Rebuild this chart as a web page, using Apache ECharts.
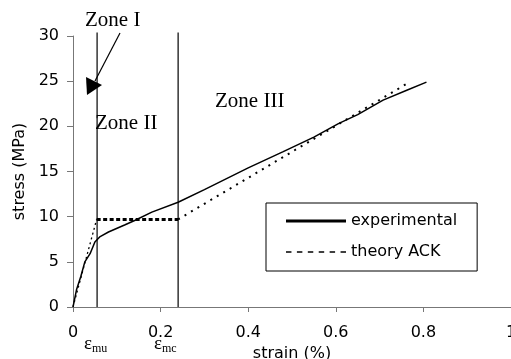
<!DOCTYPE html>
<html>
<head>
<meta charset="utf-8">
<script src="https://cdn.jsdelivr.net/npm/echarts@6/dist/echarts.min.js"></script>
<style>
html, body { margin: 0; padding: 0; background: #fff; }
#chart { width: 511px; height: 359px; }
</style>
</head>
<body>
<div id="chart"></div>
<script>
// experimental curve
var expStrain = [0, 0.008, 0.018, 0.027, 0.039, 0.05, 0.062, 0.081, 0.119, 0.142, 0.18, 0.24, 0.3, 0.4, 0.48, 0.55, 0.606, 0.65, 0.708, 0.762, 0.807];
var expStress = [0, 1.9, 3.4, 5.0, 5.9, 7.2, 7.8, 8.3, 9.1, 9.6, 10.5, 11.6, 13.0, 15.4, 17.2, 18.8, 20.3, 21.3, 22.9, 24.0, 24.9];

// ACK theory: elastic part, plateau, post-cracking part
var ackStrain1 = [0, 0.054];
var ackStress1 = [0, 9.7];
var plateauStrain = [0.054, 0.24];
var plateauStress = [9.7, 9.7];
var ackStrain3 = [0.24, 0.765];
var ackStress3 = [9.7, 24.8];

// zone boundaries (eps_mu, eps_mc), drawn a bit above the 30 tick
var zoneLines = [0.055, 0.24];
var zoneTop = 30.4;

function pairs(xs, ys) {
    var out = [];
    for (var i = 0; i < xs.length; i++) {
        out.push([xs[i], ys[i]]);
    }
    return out;
}

var sans = 'DejaVu Sans';
var serif = 'Liberation Serif';

var mychart = echarts.init(document.getElementById('chart'));

var zoneSeries = zoneLines.map(function (x, i) {
    return {
        name: 'zone' + i,
        type: 'line',
        data: [[x, 0], [x, zoneTop]],
        showSymbol: false,
        symbol: 'none',
        clip: false,
        silent: true,
        lineStyle: {color: '#000', width: 1.2},
        z: 1
    };
});

var subText = {
    e: {fontFamily: serif, fontSize: 19, fill: '#000'},
    s: {fontFamily: serif, fontSize: 12, fill: '#000', padding: [8, 0, 0, 0]}
};

var option = {
    backgroundColor: '#fff',
    animation: false,
    grid: {left: 73, right: 0, top: 36, bottom: 52, outerBoundsMode: 'none', containLabel: false},
    xAxis: {
        type: 'value',
        min: 0,
        max: 1,
        interval: 0.2,
        name: 'strain (%)',
        nameLocation: 'middle',
        nameGap: 32,
        nameTextStyle: {color: '#000', fontFamily: sans, fontSize: 16, verticalAlign: 'top'},
        axisLine: {lineStyle: {color: '#777', width: 1}},
        axisTick: {show: true, inside: false, length: 5, lineStyle: {color: '#777'}},
        axisLabel: {
            color: '#000', fontFamily: sans, fontSize: 16, margin: 18,
            showMaxLabel: true,
            formatter: function (v) { return String(+v.toFixed(1)); }
        },
        splitLine: {show: false}
    },
    yAxis: {
        type: 'value',
        min: 0,
        max: 30,
        interval: 5,
        name: 'stress (MPa)',
        nameLocation: 'middle',
        nameGap: 44,
        nameTextStyle: {color: '#000', fontFamily: sans, fontSize: 16},
        axisLine: {show: true, lineStyle: {color: '#777', width: 1}},
        axisTick: {show: true, inside: false, length: 6, lineStyle: {color: '#777'}},
        axisLabel: {color: '#000', fontFamily: sans, fontSize: 16, margin: 14},
        splitLine: {show: false}
    },
    legend: {
        left: 266,
        top: 203,
        orient: 'vertical',
        backgroundColor: '#fff',
        borderColor: '#000',
        borderWidth: 1,
        borderRadius: 0,
        padding: [10, 20, 11, 20],
        itemGap: 15,
        itemWidth: 60,
        itemHeight: 10,
        textStyle: {color: '#000', fontFamily: sans, fontSize: 16},
        data: [
            {name: 'experimental', icon: 'path://M0,0L60,0L60,3L0,3Z', itemStyle: {color: '#000'}},
            {
                name: 'theory ACK',
                icon: 'path://M0,0h5v1.5h-5z M10,0h5v1.5h-5z M20,0h5v1.5h-5z M30,0h5v1.5h-5z M40,0h5v1.5h-5z M50,0h5v1.5h-5z',
                itemStyle: {color: '#000'}
            }
        ]
    },
    series: [
        {
            name: 'experimental',
            type: 'line',
            data: pairs(expStrain, expStress),
            showSymbol: false,
            symbol: 'none',
            clip: false,
            lineStyle: {color: '#000', width: 1.5},
            itemStyle: {color: '#000'},
            z: 3
        },
        {
            name: 'theory ACK',
            type: 'line',
            data: pairs(ackStrain1, ackStress1),
            showSymbol: false,
            symbol: 'none',
            lineStyle: {color: '#000', width: 1.3, type: [2, 3]},
            itemStyle: {color: '#000'},
            z: 2
        },
        {
            name: 'theory ACK',
            type: 'line',
            data: pairs(ackStrain3, ackStress3),
            showSymbol: false,
            symbol: 'none',
            lineStyle: {color: '#000', width: 2, type: [2, 5.5]},
            itemStyle: {color: '#000'},
            z: 2
        },
        {
            name: 'plateau',
            type: 'line',
            data: pairs(plateauStrain, plateauStress),
            showSymbol: false,
            symbol: 'none',
            lineStyle: {color: '#000', width: 3, type: [4, 2.5]},
            itemStyle: {color: '#000'},
            z: 2
        }
    ].concat(zoneSeries),
    graphic: [
        {type: 'text', left: 85, top: 10, style: {text: 'Zone I', fill: '#000', font: '21px "Liberation Serif"'}},
        {type: 'text', left: 95, top: 113, style: {text: 'Zone II', fill: '#000', font: '21px "Liberation Serif"'}},
        {type: 'text', left: 215, top: 91, style: {text: 'Zone III', fill: '#000', font: '21px "Liberation Serif"'}},
        {type: 'line', shape: {x1: 120, y1: 33, x2: 95, y2: 81}, style: {stroke: '#000', lineWidth: 1.2}},
        {type: 'polygon', shape: {points: [[86, 77], [102, 85], [87, 95]]}, style: {fill: '#000'}},
        {type: 'text', left: 84, top: 335, style: {rich: subText, text: '{e|ε}{s|mu}'}},
        {type: 'text', left: 154, top: 335, style: {rich: subText, text: '{e|ε}{s|mc}'}}
    ]
};

mychart.setOption(option);
</script>
</body>
</html>
